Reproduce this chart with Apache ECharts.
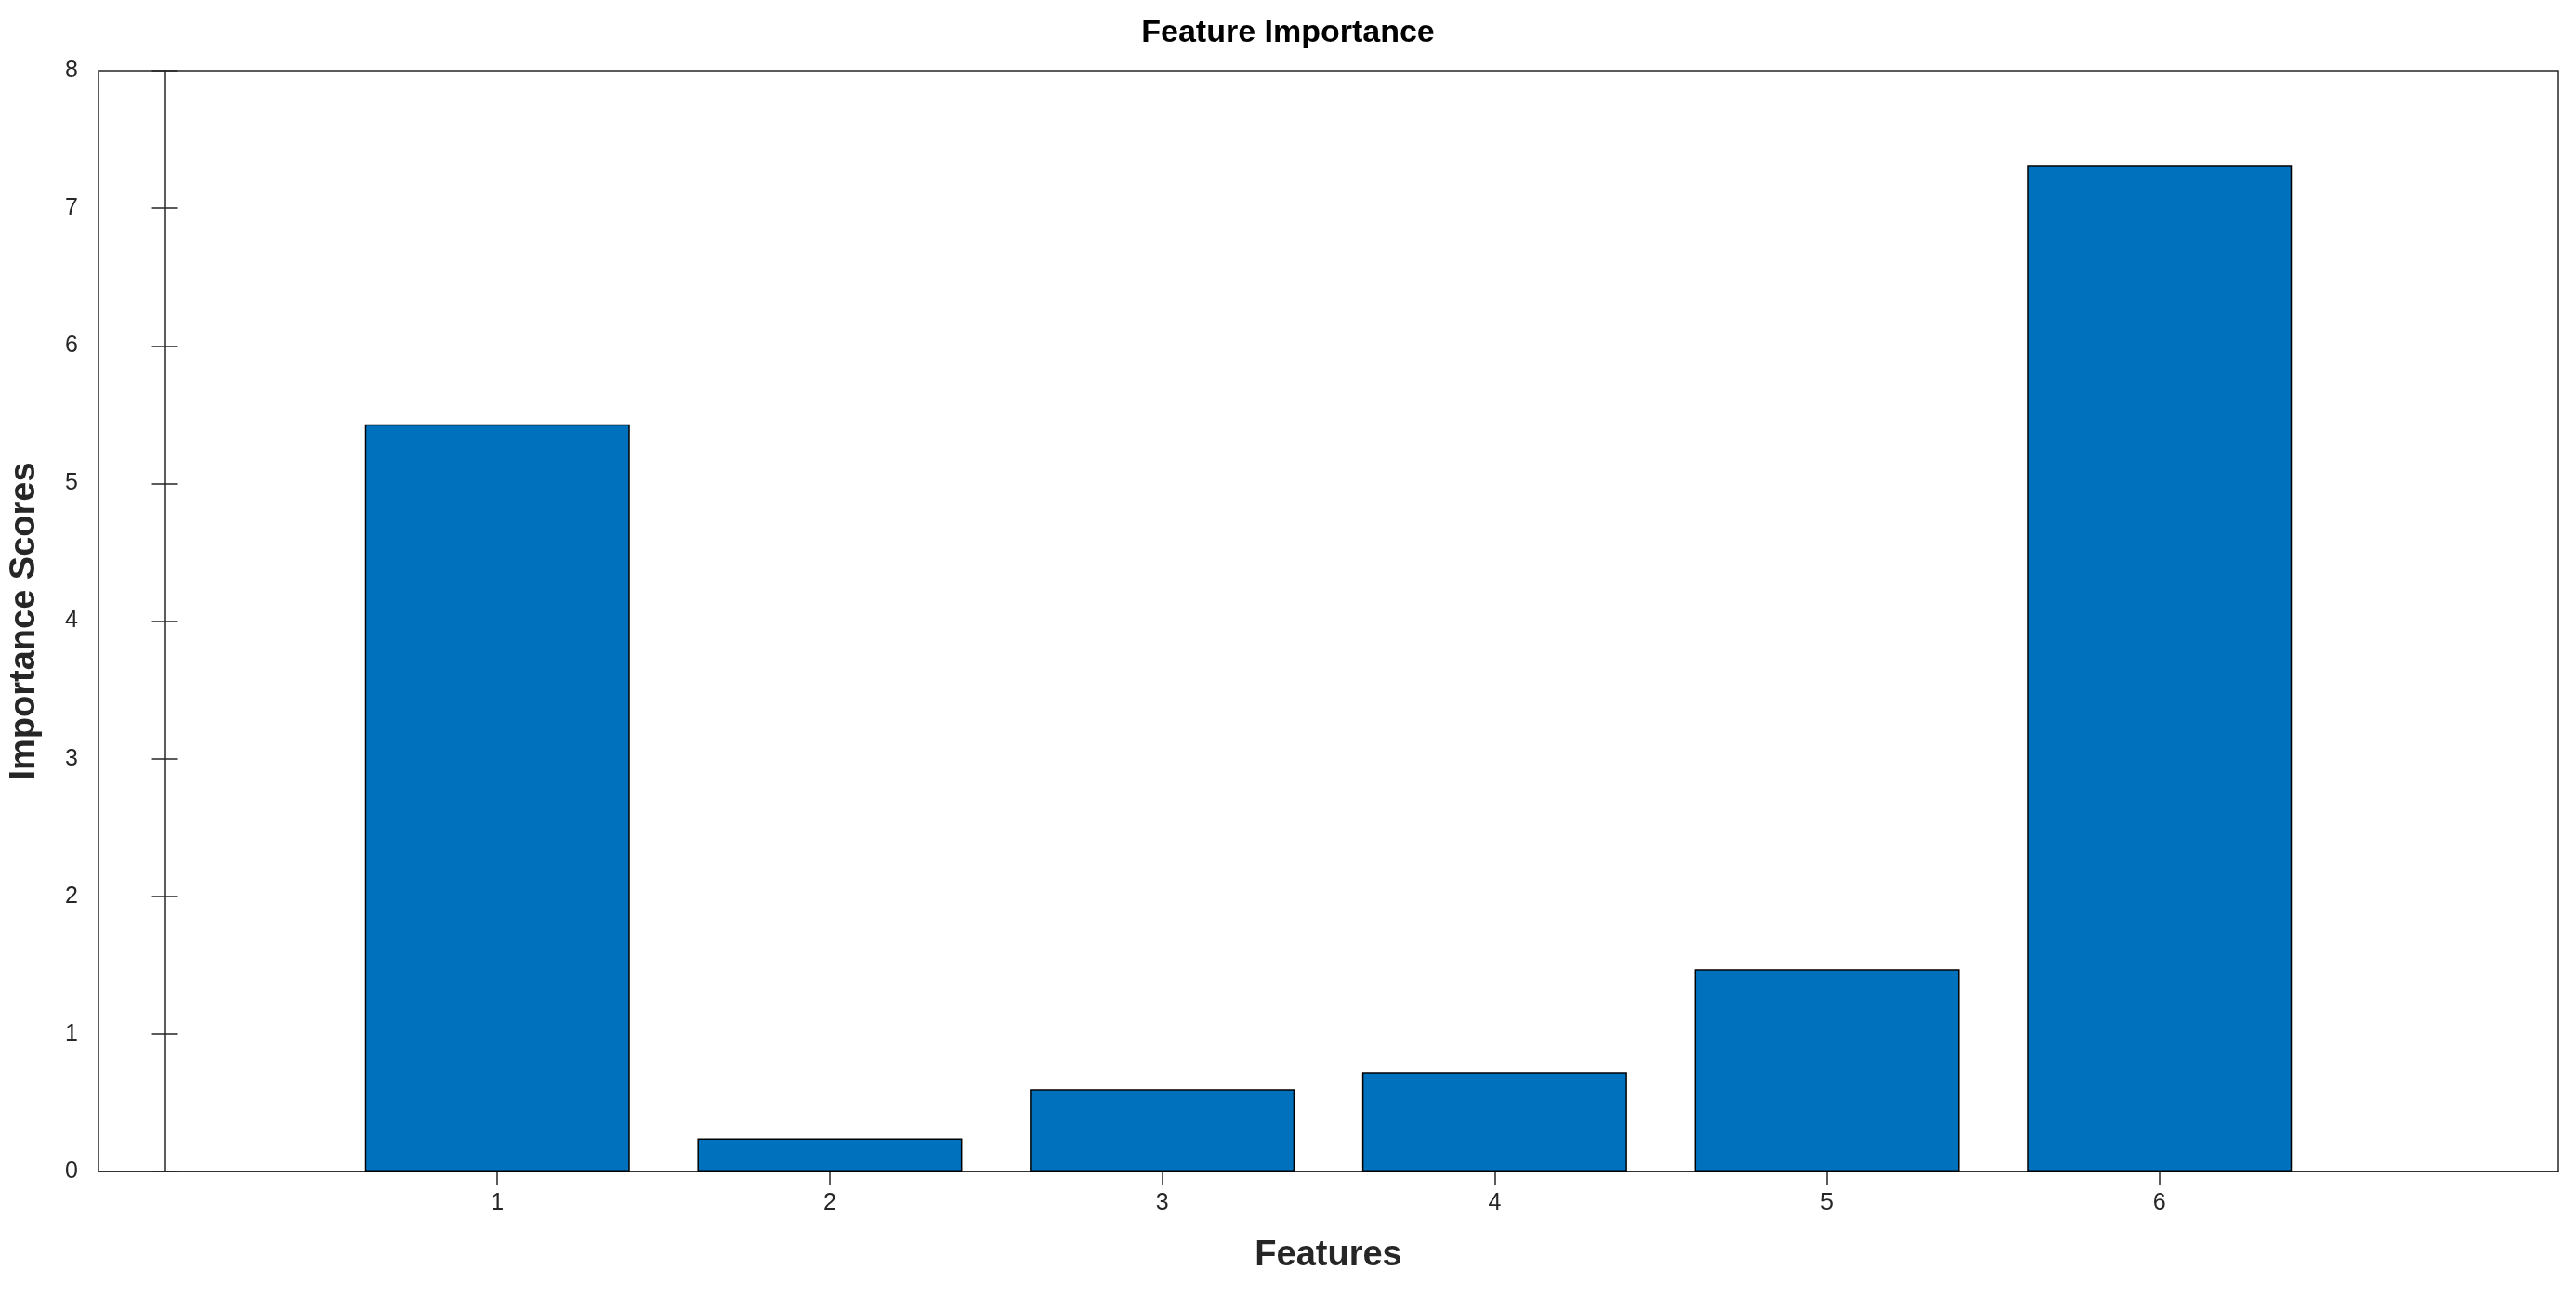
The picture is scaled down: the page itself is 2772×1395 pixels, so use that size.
<!DOCTYPE html>
<html>
<head>
<meta charset="utf-8">
<script src="https://cdn.jsdelivr.net/npm/echarts@6/dist/echarts.min.js"></script>
<style>html,body{margin:0;padding:0;background:#fff}#chart{width:2772px;height:1395px}</style>
</head>
<body>
<div id="chart"></div>
<script>
var features = [1, 2, 3, 4, 5, 6];
var scores = [5.43, 0.24, 0.60, 0.72, 1.47, 7.31];
var yTicks = [0, 1, 2, 3, 4, 5, 6, 7, 8];

var chart = echarts.init(document.getElementById('chart'));
var font = 'Liberation Sans';
var tickStyle = {inside: true, length: 14, lineStyle: {color: '#262626', width: 1.5}};

var data = [];
for (var i = 0; i < features.length; i++) data.push([features[i], scores[i]]);

chart.setOption({
	animation: false,
	title: {text: 'Feature Importance', left: 'center', top: 14,
		textStyle: {fontFamily: font, fontSize: 34, fontWeight: 'bold', color: '#000'}},
	grid: {left: 106, right: 19, top: 76, bottom: 134, show: true, borderColor: '#262626', borderWidth: 1.5},
	xAxis: [{
		type: 'value', min: -0.2, max: 7.2,
		name: 'Features', nameLocation: 'middle', nameGap: 72,
		nameTextStyle: {fontFamily: font, fontSize: 38, fontWeight: 'bold', color: '#262626'},
		axisLine: {lineStyle: {color: '#262626', width: 1.5}},
		axisTick: Object.assign({customValues: features}, tickStyle),
		axisLabel: {customValues: features, fontFamily: font, fontSize: 25, color: '#262626', margin: 22},
		splitLine: {show: false}
	}, {
		type: 'value', min: -0.2, max: 7.2, position: 'top',
		axisLine: {show: false},
		axisTick: Object.assign({customValues: features}, tickStyle),
		axisLabel: {show: false}, splitLine: {show: false}
	}],
	yAxis: [{
		type: 'value', min: 0, max: 8, interval: 1,
		name: 'Importance Scores', nameLocation: 'middle', nameGap: 60,
		nameTextStyle: {fontFamily: font, fontSize: 38, fontWeight: 'bold', color: '#262626'},
		axisLine: {show: true, lineStyle: {color: '#262626', width: 1.5}},
		axisTick: tickStyle,
		axisLabel: {fontFamily: font, fontSize: 25, color: '#262626', margin: 22},
		splitLine: {show: false}
	}, {
		type: 'value', min: 0, max: 8, interval: 1, position: 'right',
		axisLine: {show: false}, axisTick: tickStyle,
		axisLabel: {show: false}, splitLine: {show: false}
	}],
	series: [{
		type: 'bar', data: data, barWidth: 285,
		itemStyle: {color: '#0072BD', borderColor: '#000', borderWidth: 1.5}
	}]
});
</script>
</body>
</html>
